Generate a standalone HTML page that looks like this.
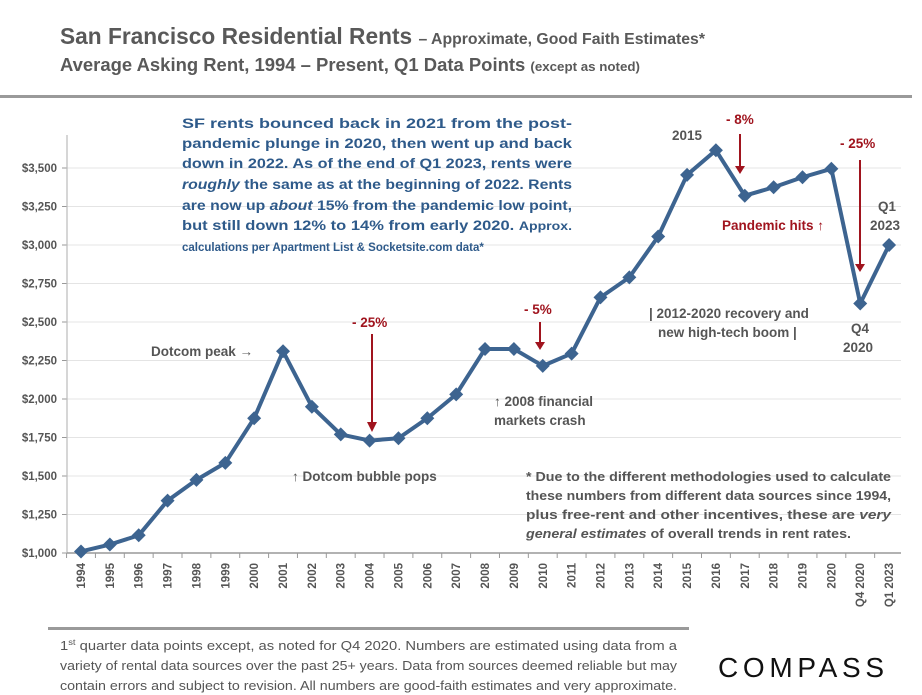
<!DOCTYPE html>
<html><head><meta charset="utf-8"><style>
body{margin:0;background:#fff;width:922px;height:695px;overflow:hidden;font-family:"Liberation Sans",sans-serif}
svg{position:absolute;left:0;top:0}
</style></head><body>
<svg width="922" height="695" xmlns="http://www.w3.org/2000/svg">
<rect width="922" height="695" fill="#fff"/>
<text x="60" y="44" font-size="23" font-weight="bold" fill="#595959" textLength="645" lengthAdjust="spacingAndGlyphs">San Francisco Residential Rents <tspan font-size="16">– Approximate, Good Faith Estimates*</tspan></text>
<text x="60" y="71" font-size="18" font-weight="bold" fill="#595959" textLength="580" lengthAdjust="spacingAndGlyphs">Average Asking Rent, 1994 – Present, Q1 Data Points <tspan font-size="13">(except as noted)</tspan></text>
<rect x="0" y="95" width="912" height="3" fill="#9a9a9a"/>
<g id="grid"></g><g id="axes"></g><g id="series"></g>
<g font-weight="bold" font-size="13.5" fill="#2e5a8a">
<text x="182" y="128" textLength="390" lengthAdjust="spacingAndGlyphs">SF rents bounced back in 2021 from the post-</text>
<text x="182" y="148" textLength="390" lengthAdjust="spacingAndGlyphs">pandemic plunge in 2020, then went up and back</text>
<text x="182" y="168" textLength="390" lengthAdjust="spacingAndGlyphs">down in 2022. As of the end of Q1 2023, rents were</text>
<text x="182" y="189" textLength="390" lengthAdjust="spacingAndGlyphs"><tspan font-style="italic">roughly</tspan> the same as at the beginning of 2022. Rents</text>
<text x="182" y="210" textLength="390" lengthAdjust="spacingAndGlyphs">are now up <tspan font-style="italic">about</tspan> 15% from the pandemic low point,</text>
<text x="182" y="230" textLength="390" lengthAdjust="spacingAndGlyphs">but still down 12% to 14% from early 2020. <tspan font-size="11.5">Approx.</tspan></text>
<text x="182" y="251" font-size="11.5">calculations per Apartment List &amp; Socketsite.com data*</text>
</g>
<g font-weight="bold" font-size="13.5" fill="#555">
<text x="151" y="356">Dotcom peak →</text>
<text x="292" y="481">↑ Dotcom bubble pops</text>
<text x="494" y="406">↑ 2008 financial</text>
<text x="494" y="425">markets crash</text>
<text x="649" y="318">| 2012-2020 recovery and</text>
<text x="658" y="337">new high-tech boom |</text>
<text x="672" y="140">2015</text>
<text x="851" y="333">Q4</text>
<text x="843" y="352">2020</text>
<text x="878" y="211">Q1</text>
<text x="870" y="230">2023</text>
</g>
<g font-weight="bold" font-size="13" fill="#555">
<text x="526" y="481" textLength="365" lengthAdjust="spacingAndGlyphs">* Due to the different methodologies used to calculate</text>
<text x="526" y="500" textLength="365" lengthAdjust="spacingAndGlyphs">these numbers from different data sources since 1994,</text>
<text x="526" y="519" textLength="365" lengthAdjust="spacingAndGlyphs">plus free-rent and other incentives, these are <tspan font-style="italic">very</tspan></text>
<text x="526" y="538" textLength="325" lengthAdjust="spacingAndGlyphs"><tspan font-style="italic">general estimates</tspan> of overall trends in rent rates.</text>
</g>
<g font-weight="bold" font-size="13.5" fill="#a0141e">
<text x="352" y="327">- 25%</text>
<text x="524" y="314">- 5%</text>
<text x="726" y="124">- 8%</text>
<text x="840" y="148">- 25%</text>
<text x="722" y="230">Pandemic hits ↑</text>
</g>
<g stroke="#a0141e" stroke-width="2" fill="#a0141e">
<line x1="372" y1="334" x2="372" y2="424"/><polygon points="367,422 377,422 372,432" stroke="none"/>
<line x1="540" y1="322" x2="540" y2="344"/><polygon points="535,342 545,342 540,350" stroke="none"/>
<line x1="740" y1="134" x2="740" y2="168"/><polygon points="735,166 745,166 740,174" stroke="none"/>
<line x1="860" y1="160" x2="860" y2="266"/><polygon points="855,264 865,264 860,272" stroke="none"/>
</g>
<rect x="48" y="627" width="641" height="3" fill="#9a9a9a"/>
<g font-size="12.5" fill="#555">
<text x="60" y="650" textLength="617" lengthAdjust="spacingAndGlyphs">1<tspan font-size="8" dy="-5">st</tspan><tspan dy="5"> quarter data points except, as noted for Q4 2020. Numbers are estimated using data from a</tspan></text>
<text x="60" y="670" textLength="617" lengthAdjust="spacingAndGlyphs">variety of rental data sources over the past 25+ years. Data from sources deemed reliable but may</text>
<text x="60" y="690" textLength="617" lengthAdjust="spacingAndGlyphs">contain errors and subject to revision. All numbers are good-faith estimates and very approximate.</text>
</g>
<text x="718" y="677" font-size="28" fill="#111" letter-spacing="2" textLength="168">COMPASS</text>
</svg>
<script>
const categories=["1994","1995","1996","1997","1998","1999","2000","2001","2002","2003","2004","2005","2006","2007","2008","2009","2010","2011","2012","2013","2014","2015","2016","2017","2018","2019","2020","Q4 2020","Q1 2023"];
const rents=[1010,1055,1115,1340,1475,1585,1875,2310,1950,1770,1730,1745,1875,2030,2325,2325,2215,2295,2660,2790,3055,3455,3615,3320,3375,3440,3495,2620,3000];
const yTicks=[1000,1250,1500,1750,2000,2250,2500,2750,3000,3250,3500];
const yTickLabels=["$1,000","$1,250","$1,500","$1,750","$2,000","$2,250","$2,500","$2,750","$3,000","$3,250","$3,500"];
const NS="http://www.w3.org/2000/svg";
const x0=81,step=28.86,axisX=67,axisRight=901;
const xs=i=>x0+i*step;
const ys=v=>553-(v-1000)*38.5/250;
function mk(t,a,p){const e=document.createElementNS(NS,t);for(const k in a)e.setAttribute(k,a[k]);p.appendChild(e);return e;}
const grid=document.getElementById('grid'),axes=document.getElementById('axes'),ser=document.getElementById('series');
yTicks.forEach((v,i)=>{
 if(i>0){const g=mk('line',{x1:axisX,x2:axisRight,y1:ys(v),y2:ys(v),stroke:'#e4e4e4','stroke-width':1},grid);
 
 }
 const t=mk('text',{x:57,y:ys(v)+4,'text-anchor':'end','font-size':11.5,'font-weight':'bold',fill:'#555'},axes);
 t.textContent=yTickLabels[i];
 
 
 mk('line',{x1:62,x2:axisX,y1:ys(v),y2:ys(v),stroke:'#999'},axes);
});
const ya=mk('line',{x1:axisX,x2:axisX,y1:135,y2:553,stroke:'#bbb','stroke-width':1.2},axes);


const xa=mk('line',{x1:axisX,x2:axisRight,y1:553,y2:553,stroke:'#999','stroke-width':1.5},axes);


categories.forEach((c,i)=>{
 mk('line',{x1:xs(i)-step/2,x2:xs(i)-step/2,y1:553,y2:558,stroke:'#999'},axes);
 const t=mk('text',{transform:`translate(${xs(i)+4},563) rotate(-90)`,'text-anchor':'end','font-size':11.5,'font-weight':'bold',fill:'#555'},axes);
 t.textContent=c;
 
 
});
const pts=rents.map((v,i)=>xs(i)+','+ys(v)).join(' ');
const pl=mk('polyline',{points:pts,fill:'none',stroke:'#3d6490','stroke-width':4,'stroke-linejoin':'round'},ser);


rents.forEach((v,i)=>{
 const x=xs(i),y=ys(v);
 const m=mk('polygon',{points:`${x},${y-7} ${x+7},${y} ${x},${y+7} ${x-7},${y}`,fill:'#3d6490'},ser);
 
 
});
</script>
</body></html>
